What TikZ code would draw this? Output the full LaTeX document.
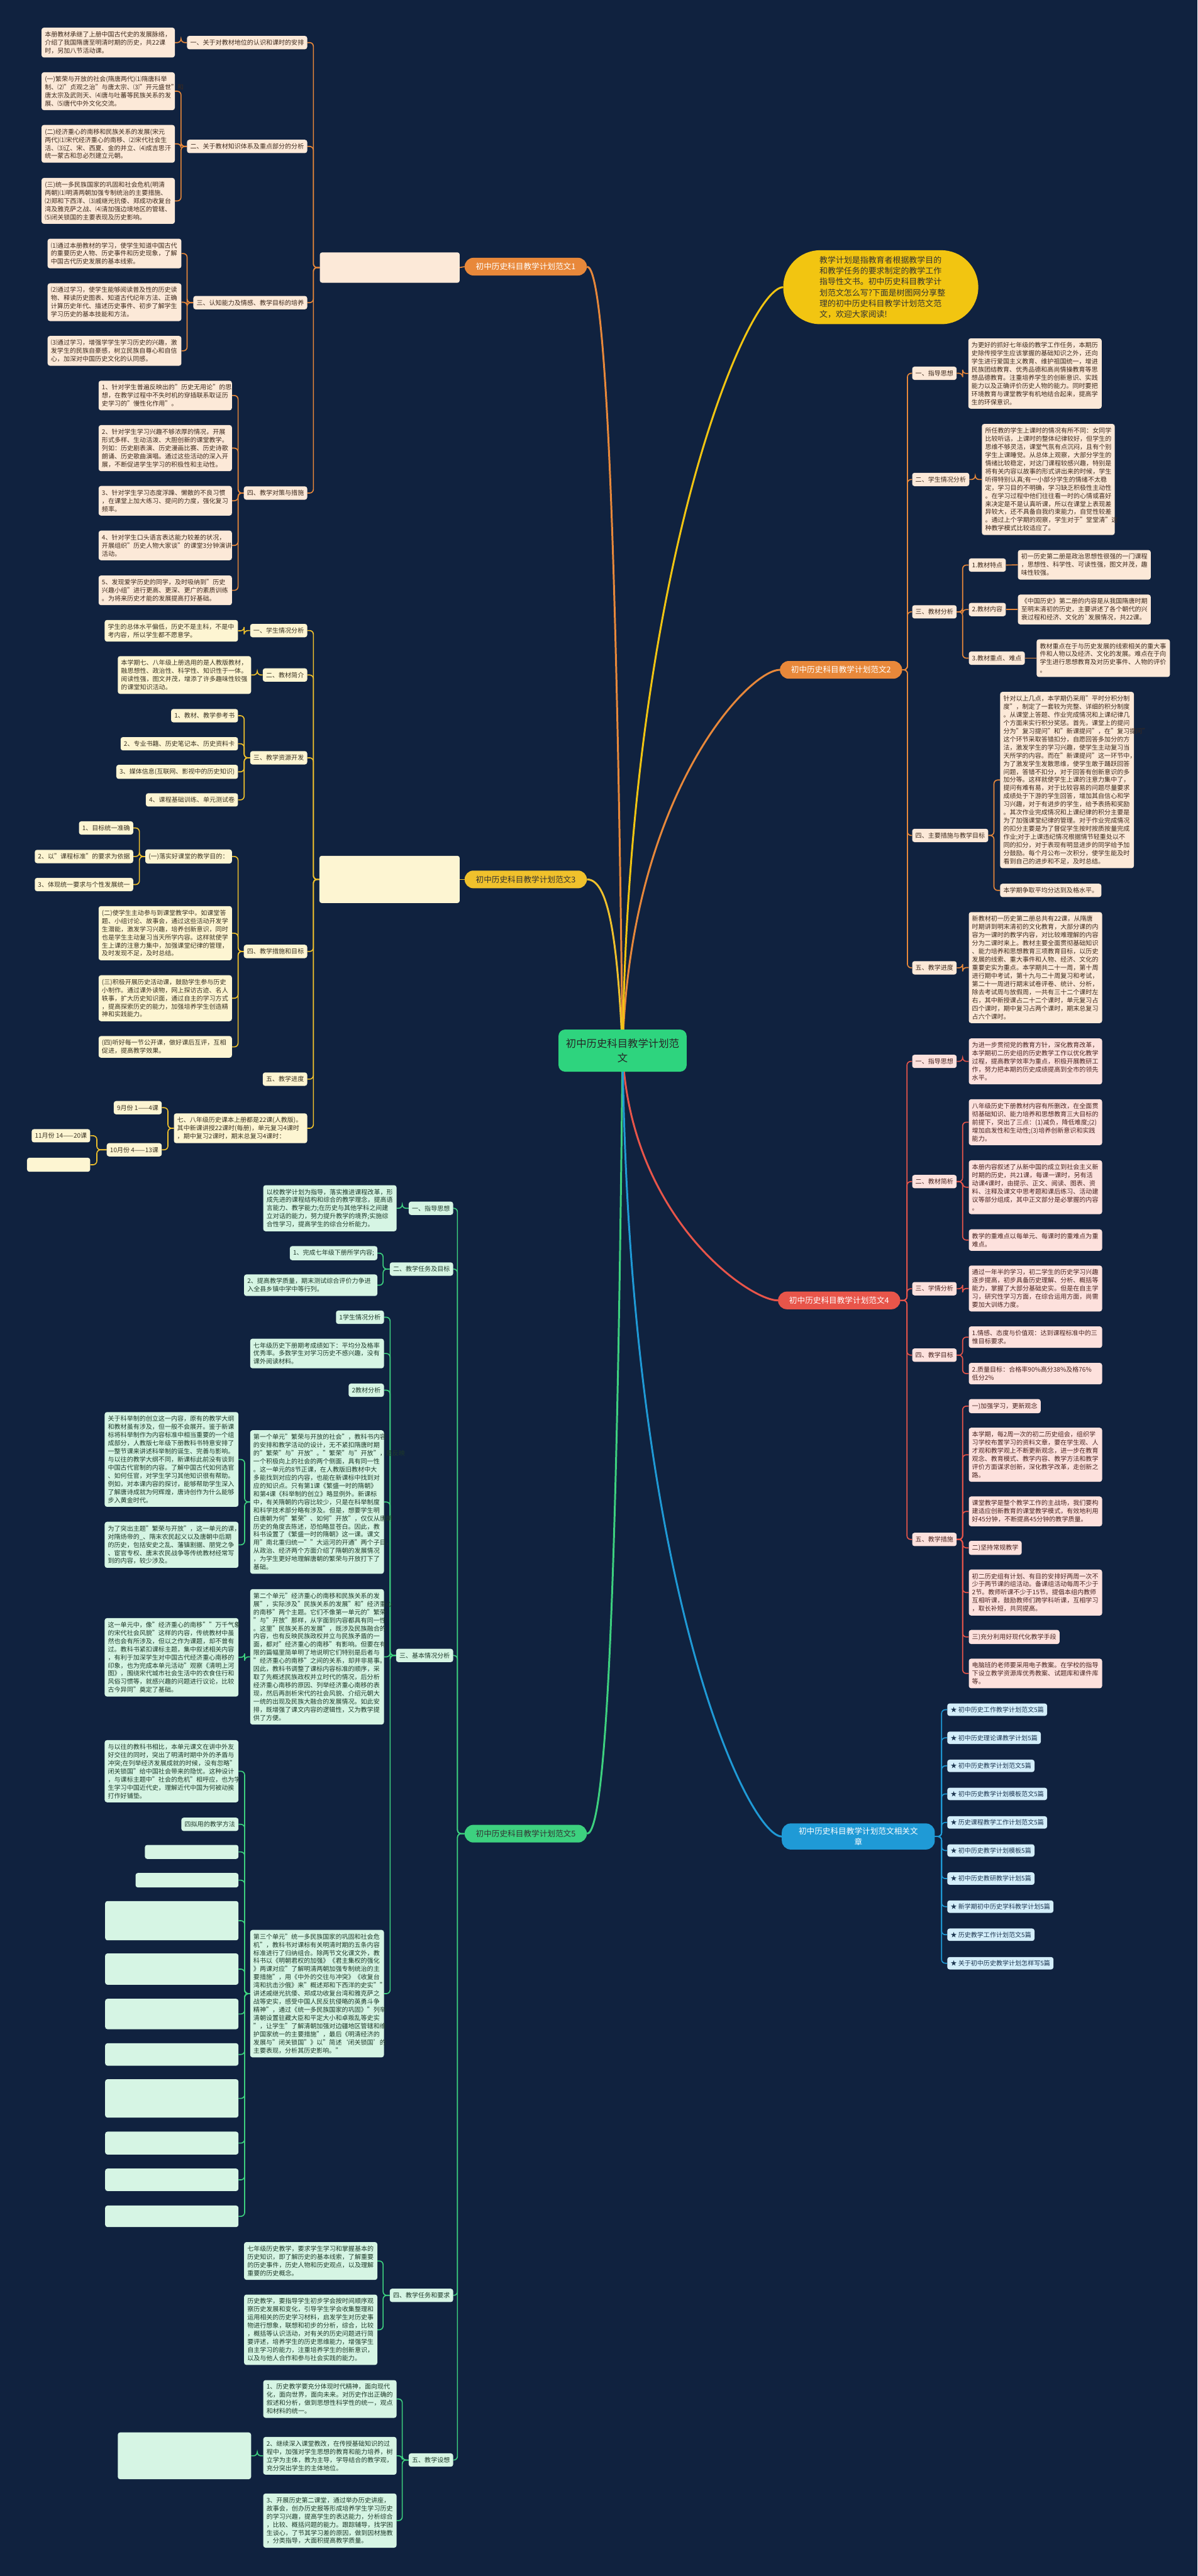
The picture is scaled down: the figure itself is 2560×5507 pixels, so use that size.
\documentclass[tikz,border=0pt]{standalone}
\usepackage{fontspec}
\setmainfont{Noto Sans CJK SC}
\usetikzlibrary{calc}
\pgfdeclarelayer{back}
\pgfdeclarelayer{wires}
\pgfsetlayers{back,wires,main}
\definecolor{bgc}{HTML}{10223F}
\definecolor{ocol}{HTML}{E8883A}
\definecolor{ofill}{HTML}{FCE9D8}
\definecolor{otext}{HTML}{3E2A1C}
\definecolor{ycol}{HTML}{F0C12C}
\definecolor{yfill}{HTML}{FDF5D2}
\definecolor{ytext}{HTML}{3A3220}
\definecolor{rcol}{HTML}{E8554A}
\definecolor{rfill}{HTML}{FDE1DD}
\definecolor{rtext}{HTML}{4A2420}
\definecolor{gcol}{HTML}{3DD17F}
\definecolor{gfill}{HTML}{D6F5E4}
\definecolor{gtext}{HTML}{1E3A2A}
\definecolor{bcol}{HTML}{1F9AD6}
\definecolor{bfill}{HTML}{D3EEFA}
\definecolor{btext}{HTML}{1C3550}
\definecolor{bub}{HTML}{F2C511}
\definecolor{rootc}{HTML}{2ED47E}
\newcommand\fs[2]{\fontsize{#1}{#2}\selectfont}
\newcommand\lwire[4]{\foreach \kid in {#4}{\draw[#1] (#2.west) -- (#2.west -| #3) |- (\kid.east);}}
\newcommand\rwire[4]{\foreach \kid in {#4}{\draw[#1] (#2.east) -- (#2.east -| #3) |- (\kid.west);}}
\tikzset{
 box/.style={rounded corners=5pt, inner xsep=7pt, inner ysep=8pt, align=left, font=\fs{13.5}{17.4}},
 ob/.style={box, fill=ofill, text=otext},
 yb/.style={box, fill=yfill, text=ytext},
 rb/.style={box, fill=rfill, text=rtext},
 gb/.style={box, fill=gfill, text=gtext},
 bb/.style={box, fill=bfill, text=btext},
 tall/.style={minimum height=#1},
 pill/.style={rounded corners=19pt, inner xsep=24pt, inner ysep=11pt, font=\fs{17}{22}, align=center},
 ow/.style={draw=ocol, line width=2.2pt, rounded corners=8pt},
 yw/.style={draw=ycol, line width=2.2pt, rounded corners=8pt},
 rw/.style={draw=rcol, line width=2.2pt, rounded corners=8pt},
 gw/.style={draw=gcol, line width=2.2pt, rounded corners=8pt},
 bw/.style={draw=bcol, line width=2.2pt, rounded corners=8pt},
 rootw/.style={line width=4pt},
}
\begin{document}
\begin{tikzpicture}[x=1pt,y=-1pt]
\useasboundingbox (0,0) rectangle (2560,5507);
\begin{pgfonlayer}{back}
\fill[bgc] (0,0) rectangle (2560,5507);
\end{pgfonlayer}

\node[fill=rootc, rounded corners=14pt, font=\fs{22}{30}, text=black!85, align=center, minimum width=274pt, minimum height=90pt] (root) at (1331,2246) {初中历史科目教学计划范\\文};
\node[fill=bub, rounded corners=79pt, minimum width=417pt, minimum height=158pt, text width=262pt, align=left, font=\fs{17.4}{23}, text=black!80] (bubble) at (1883,614) {教学计划是指教育者根据教学目的\\和教学任务的要求制定的教学工作\\指导性文书。初中历史科目教学计\\划范文怎么写?下面是树图网分享整\\理的初中历史科目教学计划范文范\\文，欢迎大家阅读!};

\node[pill, fill=ocol, text=white] (b1) at (1124,570) {初中历史科目教学计划范文1};
\node[ob, anchor=east, text width=285pt, tall=65pt] (i1) at (983,572) {};
\coordinate (T1) at (670,0);
\node[ob, anchor=east] (b1a) at (657,91) {一、关于对教材地位的认识和课时的安排};
\node[ob, anchor=east, text width=271pt] (b1a1) at (374,91) {本册教材承继了上册中国古代史的发展脉络，\\介绍了我国隋唐至明清时期的历史，共22课\\时，另加八节活动课。};
\node[ob, anchor=east] (b1b) at (657,313) {二、关于教材知识体系及重点部分的分析};
\node[ob, anchor=east, text width=271pt] (b1b1) at (374,195) {(一)繁荣与开放的社会(隋唐两代)⑴隋唐科举\\制、⑵"贞观之治"与唐太宗、⑶"开元盛世"和\\唐太宗及武则天、⑷唐与吐蕃等民族关系的发\\展、⑸唐代中外文化交流。};
\node[ob, anchor=east, text width=271pt] (b1b2) at (374,307.5) {(二)经济重心的南移和民族关系的发展(宋元\\两代)⑴宋代经济重心的南移、⑵宋代社会生\\活、⑶辽、宋、西夏、金的并立、⑷成吉思汗\\统一蒙古和忽必烈建立元朝。};
\node[ob, anchor=east, text width=271pt] (b1b3) at (374,429.5) {(三)统一多民族国家的巩固和社会危机(明清\\两朝)⑴明清两朝加强专制统治的主要措施、\\⑵郑和下西洋、⑶戚继光抗倭、郑成功收复台\\湾及雅克萨之战、⑷清加强边境地区的管辖、\\⑸闭关锁国的主要表现及历史影响。};
\node[ob, anchor=east] (b1c) at (657,647) {三、认知能力及情感、教学目标的培养};
\node[ob, anchor=east, text width=272pt] (b1c1) at (388,542) {⑴通过本册教材的学习，使学生知道中国古代\\的重要历史人物、历史事件和历史现象，了解\\中国古代历史发展的基本线索。};
\node[ob, anchor=east, text width=272pt] (b1c2) at (388,646) {⑵通过学习，使学生能够阅读普及性的历史读\\物、释读历史图表、知道古代纪年方法、正确\\计算历史年代、描述历史事件、初步了解学生\\学习历史的基本技能和方法。};
\node[ob, anchor=east, text width=272pt] (b1c3) at (388,750) {⑶通过学习，增强学学生学习历史的兴趣，激\\发学生的民族自豪感，树立民族自尊心和自信\\心，加深对中国历史文化的认同感。};
\node[ob, anchor=east] (b1d) at (657,1054) {四、教学对策与措施};
\node[ob, anchor=east, text width=271pt] (b1d1) at (496,845.5) {1、针对学生普遍反映出的"历史无用论"的思\\想，在教学过程中不失时机的穿插联系取证历\\史学习的"慢性化作用"。};
\node[ob, anchor=east, text width=271pt] (b1d2) at (496,958) {2、针对学生学习兴趣不够浓厚的情况，开展\\形式多样、生动活泼、大胆创新的课堂教学。\\列如：历史剧表演、历史漫画比赛、历史诗歌\\朗诵、历史歌曲演唱。通过这些活动的深入开\\展，不断促进学生学习的积极性和主动性。};
\node[ob, anchor=east, text width=271pt] (b1d3) at (496,1070.5) {3、针对学生学习态度浮躁、懒散的不良习惯\\，在课堂上加大练习、提问的力度，强化复习\\频率。};
\node[ob, anchor=east, text width=271pt] (b1d4) at (496,1166) {4、针对学生口头语言表达能力较差的状况，\\开展组织"历史人物大家谈"的课堂3分钟演讲\\活动。};
\node[ob, anchor=east, text width=271pt] (b1d5) at (496,1262) {5、发现爱学历史的同学，及时吸纳到"历史\\兴趣小组"进行更高、更深、更广的素质训练\\。为将来历史才能的发展提高打好基础。};

\node[pill, fill=ycol, text=black!80] (b3) at (1124,1880) {初中历史科目教学计划范文3};
\node[yb, anchor=east, text width=286pt, tall=101pt] (i3) at (983,1880) {};
\coordinate (T3) at (670,0);
\node[yb, anchor=east] (b3a) at (657,1348) {一、学生情况分析};
\node[yb, anchor=east, text width=271pt] (b3a1) at (509,1348.5) {学生的总体水平偏低，历史不是主科，不是中\\考内容，所以学生都不愿意学。};
\node[yb, anchor=east] (b3b) at (657,1443) {二、教材简介};
\node[yb, anchor=east, text width=271pt] (b3b1) at (537,1443) {本学期七、八年级上册选用的是人教版教材，\\融思想性、政治性、科学性、知识性于一体。\\阅读性强，图文并茂，增添了许多趣味性较强\\的课堂知识活动。};
\node[yb, anchor=east] (b3c) at (657,1620) {三、教学资源开发};
\node[yb, anchor=east] (b3c1) at (509,1530) {1、教材、教学参考书};
\node[yb, anchor=east] (b3c2) at (509,1590) {2、专业书籍、历史笔记本、历史资料卡};
\node[yb, anchor=east] (b3c3) at (509,1650) {3、媒体信息(互联网、影视中的历史知识)};
\node[yb, anchor=east] (b3c4) at (509,1710) {4、课程基础训练、单元测试卷};
\node[yb, anchor=east] (b3d) at (657,2034) {四、教学措施和目标};
\node[yb, anchor=east] (b3d1) at (496,1831) {(一)落实好课堂的教学目的：};
\node[yb, anchor=east] (b3d1a) at (285,1770) {1、目标统一准确};
\node[yb, anchor=east] (b3d1b) at (285,1831) {2、以"课程标准"的要求为依据};
\node[yb, anchor=east] (b3d1c) at (285,1891) {3、体现统一要求与个性发展统一};
\node[yb, anchor=east, text width=271pt] (b3d2) at (496,1995) {(二)使学生主动参与到课堂教学中。如课堂答\\题、小组讨论、故事会，通过这些活动开发学\\生潜能，激发学习兴趣，培养创新意识，同时\\也是学生主动复习当天所学内容。这样就使学\\生上课的注意力集中，加强课堂纪律的管理，\\及时发现不足，及时总结。};
\node[yb, anchor=east, text width=271pt] (b3d3) at (496,2134) {(三)积极开展历史活动课，鼓励学生参与历史\\小制作。通过课外读物，网上探访古迹、名人\\轶事，扩大历史知识面，通过自主的学习方式\\，提高探索历史的能力，加强培养学生创造精\\神和实践能力。};
\node[yb, anchor=east, text width=271pt] (b3d4) at (496,2238) {(四)听好每一节公开课，做好课后互评，互相\\促进，提高教学效果。};
\node[yb, anchor=east] (b3e) at (657,2307) {五、教学进度};
\node[yb, anchor=east, text width=271pt] (b3f) at (657,2412) {七、八年级历史课本上册都是22课(人教版)。\\其中新课讲授22课时(每册)，单元复习4课时\\，期中复习2课时，期末总复习4课时：};
\node[yb, anchor=east] (m9) at (346,2368) {9月份 1——4课};
\node[yb, anchor=east] (m10) at (346,2458) {10月份 4——13课};
\node[yb, anchor=east] (m11) at (193,2428) {11月份 14——20课};
\node[yb, anchor=east, minimum width=135pt, minimum height=30pt] (m12) at (193,2490) {};

\node[pill, fill=ocol, text=white] (b2) at (1798,1432) {初中历史科目教学计划范文2};
\coordinate (T2) at (1940,0);
\node[ob, anchor=west] (b2a) at (1950,798) {一、指导思想};
\node[ob, anchor=west, text width=271pt] (b2a1) at (2070,798.5) {为更好的抓好七年级的教学工作任务，本期历\\史除传授学生应该掌握的基础知识之外，还向\\学生进行爱国主义教育、维护祖国统一，增进\\民族团结教育、优秀品德和高尚情操教育等思\\想品德教育。注重培养学生的创新意识、实践\\能力以及正确评价历史人物的能力。同时要把\\环境教育与课堂教学有机地结合起来，提高学\\生的环保意识。};
\node[ob, anchor=west] (b2b) at (1950,1025) {二、学生情况分析};
\node[ob, anchor=west, text width=270pt] (b2b1) at (2099,1025) {所任教的学生上课时的情况有所不同：女同学\\比较听话，上课时的整体纪律较好，但学生的\\思维不够灵活，课堂气氛有点沉闷，且有个别\\学生上课睡觉。从总体上观察，大部分学生的\\情绪比较稳定，对这门课程较感兴趣，特别是\\将有关内容以故事的形式讲出来的时候，学生\\听得特别认真;有一小部分学生的情绪不太稳\\定，学习目的不明确，学习缺乏积极性主动性\\。在学习过程中他们往往看一时的心情或喜好\\来决定是不是认真听课，所以在课堂上表现差\\异较大，还不具备自我约束能力，自觉性较差\\。通过上个学期的观察，学生对于"堂堂清"这\\种教学模式比较适应了。};
\node[ob, anchor=west] (b2c) at (1950,1308) {三、教材分析};
\node[ob, anchor=west] (b2c1) at (2071,1208) {1.教材特点};
\node[ob, anchor=west] (b2c2) at (2071,1303) {2.教材内容};
\node[ob, anchor=west] (b2c3) at (2071,1407) {3.教材重点、难点};
\node[ob, anchor=west, text width=270pt] (b2c1a) at (2176,1207.5) {初一历史第二册是政治思想性很强的一门课程\\，思想性、科学性、可读性强，图文并茂，趣\\味性较强。};
\node[ob, anchor=west, text width=270pt] (b2c2a) at (2176,1303) {《中国历史》第二册的内容是从我国隋唐时期\\至明末清初的历史，主要讲述了各个朝代的兴\\衰过程和经济、文化的\textasciigrave{}发展情况，共22课。};
\node[ob, anchor=west, text width=271pt] (b2c3a) at (2216,1407) {教材重点在于与历史发展的线索相关的重大事\\件和人物以及经济、文化的发展。难点在于向\\学生进行思想教育及对历史事件、人物的评价\\。};
\node[ob, anchor=west] (b2d) at (1950,1786) {四、主要措施与教学目标};
\node[ob, anchor=west, text width=272pt] (b2d1) at (2138,1667.5) {针对以上几点，本学期仍采用"平时分积分制\\度"，制定了一套较为完整、详细的积分制度\\。从课堂上答题、作业完成情况和上课纪律几\\个方面来实行积分奖惩。首先，课堂上的提问\\分为"复习提问"和"新课提问"，在"复习提问"\\这个环节采取答错扣分，自愿回答多加分的方\\法，激发学生的学习兴趣，使学生主动复习当\\天所学的内容。而在"新课提问"这一环节中，\\为了激发学生发散思维，使学生敢于踊跃回答\\问题，答错不扣分，对于回答有创新意识的多\\加分等。这样就使学生上课的注意力集中了，\\提问有难有易，对于比较容易的问题尽量要求\\成绩处于下游的学生回答，增加其自信心和学\\习兴趣，对于有进步的学生，给予表扬和奖励\\。其次作业完成情况和上课纪律的积分主要是\\为了加强课堂纪律的管理。对于作业完成情况\\的扣分主要是为了督促学生按时按质按量完成\\作业;对于上课违纪情况根据情节轻重处以不\\同的扣分，对于表现有明显进步的同学给予加\\分鼓励。每个月公布一次积分，使学生能及时\\看到自己的进步和不足，及时总结。};
\node[ob, anchor=west] (b2d2) at (2138,1903.5) {本学期争取平均分达到及格水平。};
\node[ob, anchor=west] (b2e) at (1950,2069) {五、教学进度};
\node[ob, anchor=west, text width=271pt] (b2e1) at (2071,2068.5) {新教材初一历史第二册总共有22课，从隋唐\\时期讲到明末清初的文化教育，大部分课的内\\容为一课时的教学内容，对比较难理解的内容\\分为二课时来上。教材主要全面贯彻基础知识\\、能力培养和思想教育三项教育目标，以历史\\发展的线索、重大事件和人物、经济、文化的\\重要史实为重点。本学期共二十一周，第十周\\进行期中考试，第十九与二十周复习和考试，\\第二十一周进行期末试卷评卷、统计、分析，\\除去考试周与放假周，一共有三十二个课时左\\右，其中新授课占二十二个课时，单元复习占\\四个课时，期中复习占两个课时，期末总复习\\占六个课时。};

\node[pill, fill=rcol, text=white] (b4) at (1794,2780) {初中历史科目教学计划范文4};
\coordinate (T4) at (1939,0);
\coordinate (T4s) at (2058,0);
\node[rb, anchor=west] (b4a) at (1950,2269) {一、指导思想};
\node[rb, anchor=west, text width=271pt] (b4a1) at (2071,2269) {为进一步贯彻党的教育方针，深化教育改革，\\本学期初二历史组的历史教学工作以优化教学\\过程，提高教学效率为重点，积极开展教研工\\作，努力把本期的历史成绩提高到全市的领先\\水平。};
\node[rb, anchor=west] (b4b) at (1950,2526) {二、教材简析};
\node[rb, anchor=west, text width=271pt] (b4b1) at (2071,2399) {八年级历史下册教材内容有所删改，在全面贯\\彻基础知识、能力培养和思想教育三大目标的\\前提下，突出了三点：(1)减负，降低难度;(2)\\增加启发性和生动性;(3)培养创新意识和实践\\能力。};
\node[rb, anchor=west, text width=271pt] (b4b2) at (2071,2538) {本册内容叙述了从新中国的成立到社会主义新\\时期的历史，共21课，每课一课时，另有活\\动课4课时，由提示、正文、阅读、图表、资\\料、注释及课文中思考题和课后练习、活动建\\议等部分组成，其中正文部分是必掌握的内容\\。};
\node[rb, anchor=west, text width=271pt] (b4b3) at (2071,2651) {教学的重难点以每单元、每课时的重难点为重\\难点。};
\node[rb, anchor=west] (b4c) at (1950,2755) {三、学情分析};
\node[rb, anchor=west, text width=271pt] (b4c1) at (2071,2754.5) {通过一年半的学习，初二学生的历史学习兴趣\\逐步提高，初步具备历史理解、分析、概括等\\能力，掌握了大部分基础史实。但是在自主学\\习，研究性学习方面，在综合运用方面，尚需\\要加大训练力度。};
\node[rb, anchor=west] (b4d) at (1950,2897) {四、教学目标};
\node[rb, anchor=west, text width=271pt] (b4d1) at (2071,2858.5) {1.情感、态度与价值观：达到课程标准中的三\\惟目标要求。};
\node[rb, anchor=west, text width=271pt] (b4d2) at (2071,2936.5) {2.质量目标：合格率90\%高分38\%及格76\%\\低分2\%};
\node[rb, anchor=west] (b4e) at (1950,3291) {五、教学措施};
\node[rb, anchor=west] (b4e1) at (2071,3006) {一)加强学习，更新观念};
\node[rb, anchor=west, text width=271pt] (b4e2) at (2071,3110) {本学期，每2周一次的初二历史组会，组织学\\习学校布置学习的资料文章，要在学生观、人\\才观和教学观上不断更新观念，进一步在教育\\观念、教育模式、教学内容、教学方法和教学\\评价方面谋求创新，深化教学改革，走创新之\\路。};
\node[rb, anchor=west, text width=271pt] (b4e3) at (2071,3231) {课堂教学是整个教学工作的主战场，我们要构\\建适应创新教育的课堂教学模式，有效地利用\\好45分钟，不断提高45分钟的教学质量。};
\node[rb, anchor=west] (b4e4) at (2071,3309) {二)坚持常规教学};
\node[rb, anchor=west, text width=271pt] (b4e5) at (2071,3404.5) {初二历史组有计划、有目的安排好两周一次不\\少于两节课的组活动。备课组活动每周不少于\\2节。教师听课不少于15节。提倡本组内教师\\互相听课，鼓励教师们跨学科听课，互相学习\\，取长补短，共同提高。};
\node[rb, anchor=west] (b4e6) at (2071,3499.5) {三)充分利用好现代化教学手段};
\node[rb, anchor=west, text width=271pt] (b4e7) at (2071,3577.5) {电脑班的老师要采用电子教案。在学校的指导\\下设立教学资源库优秀教案、试题库和课件库\\等。};

\node[pill, fill=bcol, text=white, inner ysep=9pt, inner xsep=36pt] (b6) at (1835,3926) {初中历史科目教学计划范文相关文\\章};
\coordinate (T6) at (2013,0);
\foreach \n/\yy/\tx in {
 1/3655/初中历史工作教学计划范文5篇,
 2/3715/初中历史理论课教学计划5篇,
 3/3775/初中历史教学计划范文5篇,
 4/3835/初中历史教学计划模板范文5篇,
 5/3896/历史课程教学工作计划范文5篇,
 6/3956/初中历史教学计划模板5篇,
 7/4016/初中历史教研教学计划5篇,
 8/4076/新学期初中历史学科教学计划5篇,
 9/4136/历史教学工作计划范文5篇,
 10/4197/关于初中历史教学计划怎样写5篇}{
 \node[bb, anchor=west, inner ysep=7pt] (r\n) at (2025,\yy) {★ \tx};
}

\node[pill, fill=gcol, text=black!80] (b5) at (1124,3920) {初中历史科目教学计划范文5};
\coordinate (T5) at (978,0);
\node[gb, anchor=east] (b5a) at (969,2583) {一、指导思想};
\node[gb, anchor=east, text width=271pt] (b5a1) at (848,2583) {以校教学计划为指导，落实推进课程改革，形\\成先进的课程结构和综合的教学理念，提高语\\言能力、教学能力;在历史与其他学科之间建\\立对话的能力，努力提升教学的境界;实施综\\合性学习，提高学生的综合分析能力。};
\node[gb, anchor=east] (b5b) at (969,2713) {二、教学任务及目标};
\node[gb, anchor=east] (b5b1) at (807,2679) {1、完成七年级下册所学内容;};
\node[gb, anchor=east, text width=271pt] (b5b2) at (807,2747.5) {2、提高教学质量，期末测试综合评价力争进\\入全县乡镇中学中等行列。};
\node[gb, anchor=east] (b5c) at (969,3539) {三、基本情况分析};
\node[gb, anchor=east] (b5c1) at (821,2816) {1学生情况分析};
\node[gb, anchor=east, text width=272pt] (b5c2) at (821,2893.5) {七年级历史下册期考成绩如下：平均分及格率\\优秀率。多数学生对学习历史不感兴趣，没有\\课外阅读材料。};
\node[gb, anchor=east] (b5c3) at (821,2972) {2教材分析};
\node[gb, anchor=east, text width=272pt] (b5c4) at (821,3211) {第一个单元"繁荣与开放的社会"，教科书内容\\的安排和教学活动的设计，无不紧扣隋唐时期\\的"繁荣"与"开放"。"繁荣"与"开放"，是反映\\一个积极向上的社会的两个侧面，具有同一性\\。这一单元的8节正课，在人教版旧教材中大\\多能找到对应的内容，也能在新课标中找到对\\应的知识点。只有第1课《繁盛一时的隋朝》\\和第4课《科举制的创立》略显例外。新课标\\中，有关隋朝的内容比较少，只是在科举制度\\和科学技术部分略有涉及。但是，想要学生明\\白唐朝为何"繁荣"、如何"开放"，仅仅从唐朝\\历史的角度去陈述，恐怕略显苍白。因此，教\\科书设置了《繁盛一时的隋朝》这一课。课文\\用"南北重归统一""大运河的开通"两个子目，\\从政治、经济两个方面介绍了隋朝的发展情况\\，为学生更好地理解唐朝的繁荣与开放打下了\\基础。};
\node[gb, anchor=east, text width=272pt] (b5c5) at (821,3542) {第二个单元"经济重心的南移和民族关系的发\\展"，实际涉及"民族关系的发展"和"经济重心\\的南移"两个主题。它们不像第一单元的"繁荣\\"与"开放"那样，从字面到内容都具有同一性\\。这里"民族关系的发展"，既涉及民族融合的\\内容，也有反映民族政权并立与民族矛盾的一\\面，都对"经济重心的南移"有影响。但要在有\\限的篇幅里简单明了地说明它们特别是后者与\\"经济重心的南移"之间的关系，却并非易事。\\因此，教科书调整了课标内容标准的顺序，采\\取了先概述民族政权并立时代的情况，后分析\\经济重心南移的原因、列举经济重心南移的表\\现，然后再剖析宋代的社会风貌、介绍元朝大\\一统的出现及民族大融合的发展情况。如此安\\排，既增强了课文内容的逻辑性，又为教学提\\供了方便。};
\node[gb, anchor=east, text width=272pt] (b5c6) at (821,4262) {第三个单元"统一多民族国家的巩固和社会危\\机"，教科书对课标有关明清时期的五条内容\\标准进行了归纳组合。除两节文化课文外，教\\科书以《明朝君权的加强》《君主集权的强化\\》两课对应"了解明清两朝加强专制统治的主\\要措施"，用《中外的交往与冲突》《收复台\\湾和抗击沙俄》来"概述郑和下西洋的史实""\\讲述戚继光抗倭、郑成功收复台湾和雅克萨之\\战等史实，感受中国人民反抗侵略的英勇斗争\\精神"，通过《统一多民族国家的巩固》"列举\\清朝设置驻藏大臣和平定大小和卓叛乱等史实\\"，让学生"了解清朝加强对边疆地区管辖和维\\护国家统一的主要措施"，最后《明清经济的\\发展与"闭关锁国"》以"简述‘闭关锁国’的\\主要表现，分析其历史影响。"};
\coordinate (T5L) at (523,0);
\node[gb, anchor=east, text width=272pt] (L1) at (510,3120) {关于科举制的创立这一内容，原有的教学大纲\\和教材虽有涉及，但一般不会展开。鉴于新课\\标将科举制作为内容标准中相当重要的一个组\\成部分，人教版七年级下册教科书特意安排了\\一整节课来讲述科举制的诞生、完善与影响。\\与以往的教学大纲不同，新课标此前没有谈到\\中国古代官制的内容。了解中国古代如何选官\\、如何任官，对学生学习其他知识很有帮助。\\例如，对本课内容的探讨，能够帮助学生深入\\了解唐诗成就为何辉煌，唐诗创作为什么能够\\步入黄金时代。};
\node[gb, anchor=east, text width=272pt] (L2) at (510,3302.5) {为了突出主题"繁荣与开放"，这一单元的课，\\对隋炀帝的\_、隋末农民起义以及唐朝中后期\\的历史，包括安史之乱、藩镇割据、朋党之争\\、宦官专权、唐末农民战争等传统教材经常写\\到的内容，较少涉及。};
\node[gb, anchor=east, text width=272pt] (L3) at (510,3543) {这一单元中，像"经济重心的南移""万千气象\\的宋代社会风貌"这样的内容，传统教材中虽\\然也会有所涉及，但以之作为课题，却不曾有\\过。教科书紧扣课标主题，集中叙述相关内容\\，有利于加深学生对中国古代经济重心南移的\\印象，也为完成本单元活动"观察《清明上河\\图》，围绕宋代城市社会生活中的衣食住行和\\风俗习惯等，就感兴趣的问题进行议论，比较\\古今异同"奠定了基础。};
\node[gb, anchor=east, text width=272pt] (L4) at (510,3786.5) {与以往的教科书相比，本单元课文在讲中外友\\好交往的同时，突出了明清时期中外的矛盾与\\冲突;在列举经济发展成就的时候，没有忽略"\\闭关锁国"给中国社会带来的隐忧。这种设计\\，与课标主题中"社会的危机"相呼应，也为学\\生学习中国近代史，理解近代中国为何被动挨\\打作好铺垫。};
\node[gb, anchor=east] (L5) at (510,3900) {四拟用的教学方法};
\foreach \n/\yy/\hh/\ww in {
 6/3959/30/200,
 7/4019.5/31/220,
 8/4106/84/285,
 9/4209.5/67/285,
 10/4305.5/65/285,
 11/4392/48/285,
 12/4486/82/285,
 13/4581.5/49/285,
 14/4660/48/285,
 15/4738/46/285}{
 \node[gb, anchor=east, minimum width=\ww pt, minimum height=\hh pt] (L\n) at (510,\yy) {};
}
\node[gb, anchor=east] (b5d) at (969,4907) {四、教学任务和要求};
\node[gb, anchor=east, text width=271pt] (b5d1) at (807,4833.5) {七年级历史教学，要求学生学习和掌握基本的\\历史知识，即了解历史的基本线索，了解重要\\的历史事件，历史人物和历史观点，以及理解\\重要的历史概念。};
\node[gb, anchor=east, text width=271pt] (b5d2) at (807,4980.5) {历史教学，要指导学生初步学会按时间顺序观\\察历史发展和变化，引导学生学会收集整理和\\运用相关的历史学习材料，启发学生对历史事\\物进行想象，联想和初步的分析，综合，比较\\，概括等认识活动，对有关的历史问题进行简\\要评述，培养学生的历史思维能力，增强学生\\自主学习的能力，注重培养学生的创新意识，\\以及与他人合作和参与社会实践的能力。};
\node[gb, anchor=east] (b5e) at (969,5259) {五、教学设想};
\node[gb, anchor=east, text width=271pt] (b5e1) at (848,5128.5) {1、历史教学要充分体现时代精神，面向现代\\化，面向世界，面向未来。对历史作出正确的\\叙述和分析，做到思想性科学性的统一，观点\\和材料的统一。};
\node[gb, anchor=east, text width=271pt] (b5e2) at (848,5250) {2、继续深入课堂教改，在传授基础知识的过\\程中，加强对学生思想的教育和能力培养，树\\立学为主体，教为主导，学导结合的教学观，\\充分突出学生的主体地位。};
\node[gb, anchor=east, text width=271pt] (b5e3) at (848,5388.5) {3、开展历史第二课堂，通过举办历史讲座，\\故事会，创办历史报等形成培养学生学习历史\\的学习兴趣，提高学生的表达能力，分析综合\\，比较、概括问题的能力。跟踪辅导，找学困\\生谈心，了节其学习差的原因，做到因材施教\\，分类指导，大面积提高教学质量。};
\node[gb, anchor=east, text width=271pt, tall=100pt] (b5e2L) at (537,5250) {};

\begin{pgfonlayer}{wires}
\draw[ocol, rootw] (root.center) .. controls (1320,1300) and (1300,570) .. (b1.east);
\draw[ycol, rootw] (root.center) .. controls (1320,2000) and (1300,1880) .. (b3.east);
\draw[gcol, rootw] (root.center) .. controls (1320,3300) and (1300,3920) .. (b5.east);
\draw[ocol, rootw] (root.center) .. controls (1345,1700) and (1600,1432) .. (b2.west);
\draw[rcol, rootw] (root.center) .. controls (1345,2600) and (1600,2780) .. (b4.west);
\draw[bcol, rootw] (root.center) .. controls (1345,3400) and (1600,3926) .. (b6.west);
\draw[bub, rootw] (root.center) .. controls (1345,1200) and (1600,614) .. (bubble.west);
\draw[ow] (b1.west) -- (i1.east);
\lwire{ow}{i1}{T1}{b1a,b1b,b1c,b1d}
\coordinate (t1a) at (387,0); \lwire{ow}{b1a}{t1a}{b1a1}
\coordinate (t1b) at (387,0); \lwire{ow}{b1b}{t1b}{b1b1,b1b2,b1b3}
\coordinate (t1c) at (400,0); \lwire{ow}{b1c}{t1c}{b1c1,b1c2,b1c3}
\coordinate (t1d) at (509,0); \lwire{ow}{b1d}{t1d}{b1d1,b1d2,b1d3,b1d4,b1d5}
\draw[yw] (b3.west) -- (i3.east);
\lwire{yw}{i3}{T3}{b3a,b3b,b3c,b3d,b3e,b3f}
\coordinate (t3a) at (522,0); \lwire{yw}{b3a}{t3a}{b3a1}
\coordinate (t3b) at (550,0); \lwire{yw}{b3b}{t3b}{b3b1}
\coordinate (t3c) at (522,0); \lwire{yw}{b3c}{t3c}{b3c1,b3c2,b3c3,b3c4}
\coordinate (t3d) at (509,0); \lwire{yw}{b3d}{t3d}{b3d1,b3d2,b3d3,b3d4}
\coordinate (t3e) at (298,0); \lwire{yw}{b3d1}{t3e}{b3d1a,b3d1b,b3d1c}
\coordinate (t3f) at (359,0); \lwire{yw}{b3f}{t3f}{m9,m10}
\coordinate (t3g) at (207,0); \lwire{yw}{m10}{t3g}{m11,m12}
\rwire{ow}{b2}{T2}{b2a,b2b,b2c,b2d,b2e}
\coordinate (t2a) at (2058,0); \rwire{ow}{b2a}{t2a}{b2a1}
\coordinate (t2b) at (2085,0); \rwire{ow}{b2b}{t2b}{b2b1}
\coordinate (t2c) at (2058,0); \rwire{ow}{b2c}{t2c}{b2c1,b2c2,b2c3}
\draw[ow] (b2c1.east) -- (b2c1a.west);
\draw[ow] (b2c2.east) -- (b2c2a.west);
\draw[ow] (b2c3.east) -- (b2c3a.west);
\coordinate (t2d) at (2125,0); \rwire{ow}{b2d}{t2d}{b2d1,b2d2}
\coordinate (t2e) at (2058,0); \rwire{ow}{b2e}{t2e}{b2e1}
\rwire{rw}{b4}{T4}{b4a,b4b,b4c,b4d,b4e}
\rwire{rw}{b4a}{T4s}{b4a1}
\rwire{rw}{b4b}{T4s}{b4b1,b4b2,b4b3}
\rwire{rw}{b4c}{T4s}{b4c1}
\rwire{rw}{b4d}{T4s}{b4d1,b4d2}
\rwire{rw}{b4e}{T4s}{b4e1,b4e2,b4e3,b4e4,b4e5,b4e6,b4e7}
\rwire{bw}{b6}{T6}{r1,r2,r3,r4,r5,r6,r7,r8,r9,r10}
\lwire{gw}{b5}{T5}{b5a,b5b,b5c,b5d,b5e}
\coordinate (t5a) at (860,0); \lwire{gw}{b5a}{t5a}{b5a1}
\coordinate (t5b) at (819,0); \lwire{gw}{b5b}{t5b}{b5b1,b5b2}
\coordinate (t5c) at (834,0); \lwire{gw}{b5c}{t5c}{b5c1,b5c2,b5c3,b5c4,b5c5,b5c6}
\lwire{gw}{b5c4}{T5L}{L1,L2}
\lwire{gw}{b5c5}{T5L}{L3}
\lwire{gw}{b5c6}{T5L}{L4,L5,L6,L7,L8,L9,L10,L11,L12,L13,L14,L15}
\coordinate (t5d) at (819,0); \lwire{gw}{b5d}{t5d}{b5d1,b5d2}
\coordinate (t5e) at (860,0); \lwire{gw}{b5e}{t5e}{b5e1,b5e2,b5e3}
\coordinate (t5f) at (550,0); \lwire{gw}{b5e2}{t5f}{b5e2L}
\end{pgfonlayer}
\end{tikzpicture}
\end{document}
